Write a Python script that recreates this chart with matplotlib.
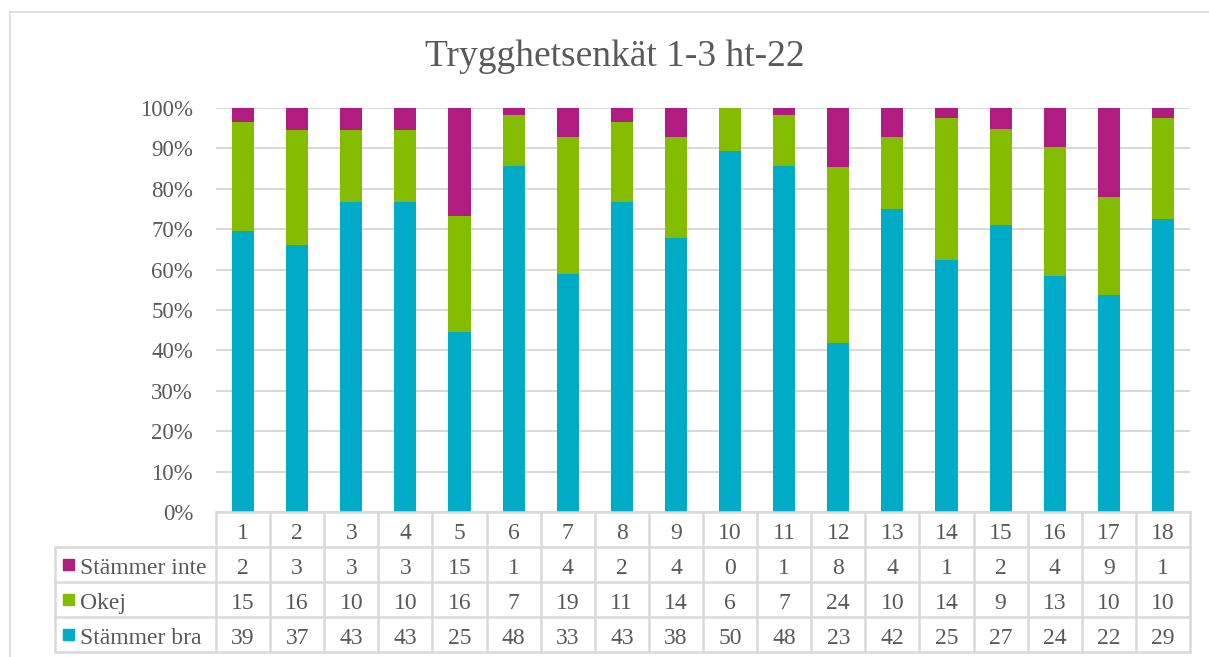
import numpy as np
import matplotlib.pyplot as plt
from matplotlib.lines import Line2D
from matplotlib.patches import Rectangle

categories = [str(i) for i in range(1, 19)]
stammer_bra = [39, 37, 43, 43, 25, 48, 33, 43, 38, 50, 48, 23, 42, 25, 27, 24, 22, 29]
okej = [15, 16, 10, 10, 16, 7, 19, 11, 14, 6, 7, 24, 10, 14, 9, 13, 10, 10]
stammer_inte = [2, 3, 3, 3, 15, 1, 4, 2, 4, 0, 1, 8, 4, 1, 2, 4, 9, 1]

title = "Trygghetsenkät 1-3 ht-22"
series_names = ["Stämmer inte", "Okej", "Stämmer bra"]
colors = {"Stämmer bra": "#00ABC8", "Okej": "#84BC00", "Stämmer inte": "#B01C80"}

TXT = "#595959"
GRID = "#D9D9D9"
W, H = 1209, 657

plt.rcParams['font.family'] = ['Liberation Serif', 'DejaVu Serif']

fig = plt.figure(figsize=(W / 100, H / 100), dpi=100)

# pixel helpers
def fx(px):
    return px / W

def fy(py):
    return 1 - py / H

left, right, top, bottom = 216, 1190, 108, 512
ax = fig.add_axes([fx(left), fy(bottom), fx(right) - fx(left), fy(top) - fy(bottom)])

bra = np.array(stammer_bra, float)
ok = np.array(okej, float)
inte = np.array(stammer_inte, float)
tot = bra + ok + inte
x = np.arange(len(categories))
bw = 0.41
ax.bar(x, bra / tot * 100, bw, color=colors["Stämmer bra"], zorder=3)
ax.bar(x, ok / tot * 100, bw, bottom=bra / tot * 100, color=colors["Okej"], zorder=3)
ax.bar(x, inte / tot * 100, bw, bottom=(bra + ok) / tot * 100, color=colors["Stämmer inte"], zorder=3)

ax.set_xlim(-0.5, len(categories) - 0.5)
ax.set_ylim(0, 100)
ax.set_yticks(np.arange(0, 101, 10))
ax.set_yticklabels([f"{v}%" for v in range(0, 101, 10)])
ax.tick_params(axis='y', length=0, pad=16.5, labelsize=16.5, labelcolor=TXT)
ax.set_xticks([])
ax.grid(axis='y', color=GRID, linewidth=1.5, zorder=0)
for s in ax.spines.values():
    s.set_visible(False)

# data table below the plot
tab_left, tab_top, row_h = 55, 512, 35
col_w = (right - left) / len(categories)
tx0 = -0.5 - (left - tab_left) / col_w
tab = fig.add_axes([fx(tab_left), fy(tab_top + 4 * row_h), fx(right) - fx(tab_left), 4 * row_h / H])
tab.set_xlim(tx0, len(categories) - 0.5)
tab.set_ylim(4, 0)
tab.axis('off')

lw = 1.8
fs = 17
# category row (no legend cell)
tab.plot([-0.5, len(categories) - 0.5], [0, 0], color=GRID, lw=lw, clip_on=False)
for r in [1, 2, 3, 4]:
    tab.plot([tx0, len(categories) - 0.5], [r, r], color=GRID, lw=lw, clip_on=False)
for c in range(len(categories) + 1):
    tab.plot([c - 0.5, c - 0.5], [0, 4], color=GRID, lw=lw, clip_on=False)
tab.plot([tx0, tx0], [1, 4], color=GRID, lw=lw, clip_on=False)

for i, cat in enumerate(categories):
    tab.text(i, 0.55, cat, ha='center', va='center_baseline', fontsize=fs, color=TXT)

rows = [stammer_inte, okej, stammer_bra]
for r, (name, vals) in enumerate(zip(series_names, rows)):
    yc = r + 1.55
    for i, v in enumerate(vals):
        tab.text(i, yc, str(v), ha='center', va='center_baseline', fontsize=fs, color=TXT)
    # legend key + label
    cy = tab_top + (r + 1.5) * row_h
    fig.patches.append(Rectangle((fx(63), fy(cy + 5.5)), 11 / W, 11 / H,
                                 transform=fig.transFigure, color=colors[name]))
    tab.text(tx0 + 25 / col_w, yc, name, ha='left', va='center_baseline', fontsize=fs, color=TXT)

fig.text(fx(615), fy(57), title, ha='center', va='center', fontsize=27, color=TXT)

# outer chart border
fig.add_artist(Line2D([fx(10), 1], [fy(12), fy(12)], color=GRID, lw=1.2, transform=fig.transFigure))
fig.add_artist(Line2D([fx(10), fx(10)], [fy(12), 0], color=GRID, lw=1.2, transform=fig.transFigure))

fig.savefig("out.png", dpi=100, facecolor="white")
